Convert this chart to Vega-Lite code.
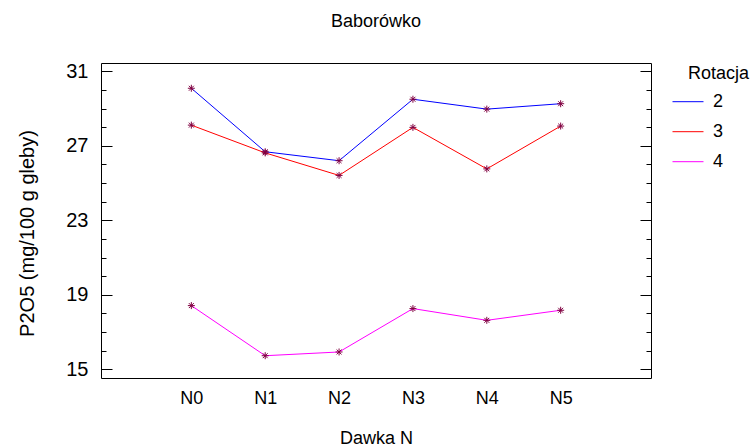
{
  "$schema": "https://vega.github.io/schema/vega-lite/v6.json",
  "width": 550,
  "height": 315,
  "autosize": {"type": "none"},
  "padding": {"left": 101, "top": 63, "right": 104, "bottom": 68},
  "background": "white",
  "title": {"text": "Baborówko", "fontSize": 18, "fontWeight": "normal", "font": "Liberation Sans", "color": "black", "frame": "group", "anchor": "middle", "offset": 30},
  "config": {
    "font": "Liberation Sans",
    "view": {"stroke": "black", "strokeWidth": 1},
    "axis": {"grid": false, "domain": false, "labelColor": "black", "titleColor": "black", "tickColor": "black", "labelFont": "Liberation Sans", "titleFont": "Liberation Sans", "titleFontWeight": "normal"}
  },
  "data": {"values": [
    {"Dawka": "N0", "Rotacja": "2", "P2O5": 30.09},
    {"Dawka": "N1", "Rotacja": "2", "P2O5": 26.68},
    {"Dawka": "N2", "Rotacja": "2", "P2O5": 26.2},
    {"Dawka": "N3", "Rotacja": "2", "P2O5": 29.5},
    {"Dawka": "N4", "Rotacja": "2", "P2O5": 28.97},
    {"Dawka": "N5", "Rotacja": "2", "P2O5": 29.26},
    {"Dawka": "N0", "Rotacja": "3", "P2O5": 28.11},
    {"Dawka": "N1", "Rotacja": "3", "P2O5": 26.62},
    {"Dawka": "N2", "Rotacja": "3", "P2O5": 25.41},
    {"Dawka": "N3", "Rotacja": "3", "P2O5": 27.99},
    {"Dawka": "N4", "Rotacja": "3", "P2O5": 25.76},
    {"Dawka": "N5", "Rotacja": "3", "P2O5": 28.06},
    {"Dawka": "N0", "Rotacja": "4", "P2O5": 18.42},
    {"Dawka": "N1", "Rotacja": "4", "P2O5": 15.73},
    {"Dawka": "N2", "Rotacja": "4", "P2O5": 15.93},
    {"Dawka": "N3", "Rotacja": "4", "P2O5": 18.26},
    {"Dawka": "N4", "Rotacja": "4", "P2O5": 17.63},
    {"Dawka": "N5", "Rotacja": "4", "P2O5": 18.17}
  ]},
  "encoding": {
    "x": {"field": "Dawka", "type": "nominal",
      "scale": {"type": "point", "domain": ["pre", "N0", "N1", "N2", "N3", "N4", "N5", "post"], "padding": 0.223},
      "axis": {"orient": "bottom", "title": "Dawka N", "ticks": false, "labelAngle": 0, "labelFontSize": 18, "labelPadding": 11, "titleFontSize": 18, "titlePadding": 22,
        "labelExpr": "indexof(datum.value, 'N') == 0 ? datum.label : ''"}}
  },
  "layer": [
    {
      "mark": {"type": "line", "strokeWidth": 1},
      "encoding": {
        "y": {"field": "P2O5", "type": "quantitative", "scale": {"domain": [14.533, 31.446], "nice": false, "zero": false},
          "axis": {"orient": "left", "title": "P2O5 (mg/100 g gleby)", "titleFontSize": 20, "titlePadding": 28, "titleY": 170,
            "values": [15,16,17,18,19,20,21,22,23,24,25,26,27,28,29,30,31],
            "labelExpr": "datum.value % 4 == 3 ? datum.label : ''",
            "labelFontSize": 20, "labelPadding": 24,
            "tickSize": {"condition": {"test": "datum.value % 4 == 3", "value": -11}, "value": -5}}},
        "color": {"field": "Rotacja", "type": "nominal",
          "scale": {"domain": ["2", "3", "4"], "range": ["#0000ff", "#ff0000", "#ff00ff"]},
          "legend": {"orient": "none", "legendX": 587, "legendY": 1.7, "padding": 0, "title": "Rotacja",
            "titleFontSize": 18, "titleFontWeight": "normal", "titleColor": "black", "titlePadding": 10,
            "labelFontSize": 18, "labelColor": "black", "symbolType": "M-2,0L2,0", "symbolSize": 240,
            "symbolStrokeWidth": 1, "symbolOffset": -9, "labelOffset": 16, "rowPadding": 12}}
      }
    },
    {
      "mark": {"type": "point", "shape": "M-1,0L1,0M0,-1L0,1M-0.7,-0.7L0.7,0.7M-0.7,0.7L0.7,-0.7", "filled": false, "size": 49, "strokeWidth": 1, "color": "#800040", "opacity": 1},
      "encoding": {
        "y": {"field": "P2O5", "type": "quantitative", "scale": {"domain": [14.533, 31.446], "nice": false, "zero": false},
          "axis": {"orient": "right", "title": null, "labels": false,
            "values": [15,16,17,18,19,20,21,22,23,24,25,26,27,28,29,30,31],
            "tickSize": {"condition": {"test": "datum.value % 4 == 3", "value": -11}, "value": -5}}}
      }
    }
  ],
  "resolve": {"axis": {"y": "independent"}}
}
